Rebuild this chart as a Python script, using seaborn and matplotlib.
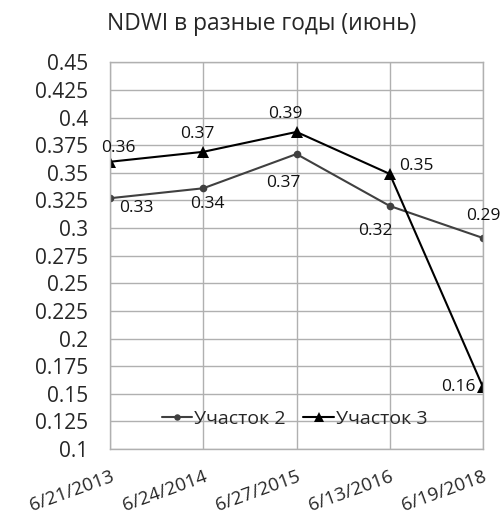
import matplotlib
matplotlib.use("Agg")
import matplotlib.pyplot as plt
import seaborn as sns
import pandas as pd
import numpy as np

dates = ["6/21/2013", "6/24/2014", "6/27/2015", "6/13/2016", "6/19/2018"]
site2 = [0.327, 0.336, 0.367, 0.320, 0.291]
site3 = [0.360, 0.369, 0.387, 0.349, 0.156]
series_names = ["Участок 2", "Участок 3"]
y_ticks = [0.1, 0.125, 0.15, 0.175, 0.2, 0.225, 0.25, 0.275, 0.3, 0.325,
           0.35, 0.375, 0.4, 0.425, 0.45]

sns.set_theme(style="white")
plt.rcParams["font.family"] = ["Open Sans", "DejaVu Sans"]

pos = np.arange(len(dates))
df2 = pd.DataFrame({"pos": pos, "value": site2})
df3 = pd.DataFrame({"pos": pos, "value": site3})

fig = plt.figure(figsize=(5.04, 5.22), dpi=100)
ax = fig.add_axes([0.2183, 0.1398, 0.7400, 0.7408])

sns.lineplot(data=df2, x="pos", y="value", color="#404040", marker="o",
             markersize=5.5, markeredgewidth=0, linewidth=1.5,
             label=series_names[0], ax=ax)
sns.lineplot(data=df3, x="pos", y="value", color="#000000", marker="^",
             markersize=8, markeredgewidth=0, linewidth=1.5,
             label=series_names[1], ax=ax)

ax.set_xlim(0, len(dates) - 1)
ax.set_ylim(0.1, 0.45)
ax.set_yticks(y_ticks)
ax.set_yticklabels([f"{t:g}" for t in y_ticks], fontsize=15)
ax.set_xticks(pos)
ax.set_xticklabels(dates, fontsize=13.5, rotation=20, ha="right", va="top",
                   rotation_mode="anchor")
ax.tick_params(axis="x", pad=13, length=0)
ax.tick_params(axis="y", pad=16, length=0)
ax.set_xlabel("")
ax.set_ylabel("")
ax.grid(True, color="#b0b0b0", linewidth=1.0)
for s in ax.spines.values():
    s.set_color("#b0b0b0")
    s.set_linewidth(1.0)

# value labels next to each point
offsets2 = [(19, -7), (3, -11.5), (-9.5, -21), (-10, -18), (0, 16)]
offsets3 = [(6, 10), (-4.5, 12.5), (-8, 13), (19, 6), (-18, 0)]
for i, v in enumerate(site2):
    ax.annotate(f"{v:.2f}", (i, v), xytext=offsets2[i], textcoords="offset points",
                ha="center", va="center", fontsize=12.5, color="#111111")
for i, v in enumerate(site3):
    ax.annotate(f"{v:.2f}", (i, v), xytext=offsets3[i], textcoords="offset points",
                ha="center", va="center", fontsize=12.5, color="#111111")

ax.legend(loc="center", bbox_to_anchor=(0.495, 0.078), ncol=2, frameon=False,
          fontsize=14, handlelength=1.55, handletextpad=0.1, columnspacing=0.9,
          borderaxespad=0, borderpad=0, markerscale=0.85)

fig.text(0.52, 0.954, "NDWI в разные годы (июнь)", ha="center", va="center",
         fontsize=16.4)

fig.savefig("out.png", dpi=100)
